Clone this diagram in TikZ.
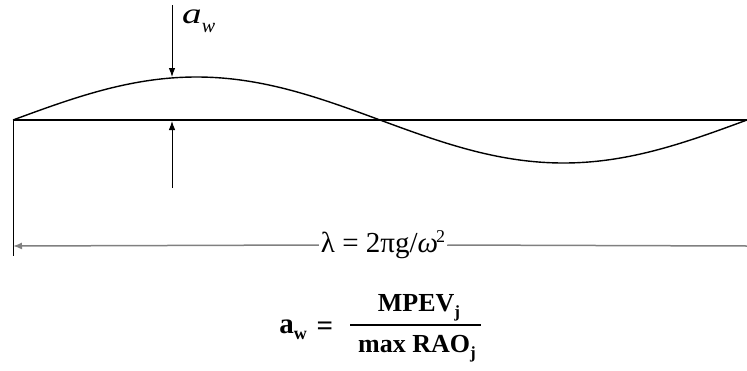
\documentclass[tikz,border=0pt]{standalone}
\usepackage{fontspec}
\setmainfont{Liberation Serif}
\usetikzlibrary{arrows.meta}
\begin{document}
\begin{tikzpicture}[x=1pt,y=-1pt,
  wave/.style={line width=1.4pt,black},
  ptr/.style={line width=0.9pt,-{Latex[length=9pt,width=6.5pt]}},
  dim/.style={line width=1.5pt,black!50},
  lbl/.style={inner sep=1pt,font=\fontsize{29}{33}\selectfont},
  fbold/.style={inner sep=1pt,font=\fontsize{26}{30}\selectfont\bfseries}]
\useasboundingbox (0,0) rectangle (747,370);
% axis and wave
\coordinate (A) at (13,120);
\coordinate (B) at (747,120);
\draw[wave] (A) -- (B);
\draw[wave] plot[domain=13:747,samples=150,smooth] (\x,{120-43*sin((\x-13)/734*360)});
% amplitude arrows
\coordinate (t0) at (172,5);
\coordinate (t1) at (172,77);
\coordinate (b0) at (172,188);
\coordinate (b1) at (172,121);
\draw[ptr] (t0) -- (t1);
\draw[ptr] (b0) -- (b1);
\node[lbl,anchor=base west,font=\fontsize{29}{32}\selectfont] (aw) at (181,23) {\scalebox{1.35}[1]{\textit{a}}\raisebox{-9pt}{\fontsize{20}{22}\selectfont\textit{w}}};
% left extension line
\coordinate (L0) at (13,121);
\coordinate (L1) at (13,256);
\draw[line width=0.9pt] (L0) -- (L1);
% dimension line
\coordinate (DL) at (13,246);
\coordinate (DR) at (747,246);
\node[lbl,inner sep=2pt] (lam) at (383,245) {λ = 2πg/\textit{ω}\kern-2pt\raisebox{10pt}{\fontsize{18}{20}\selectfont 2}};
\draw[dim,{Latex[length=9pt,width=7pt]}-] (DL) -- (lam.west);
\draw[dim] (lam.east) -- (DR);
% formula
\node[fbold,anchor=base,font=\fontsize{29}{32}\selectfont\bfseries] (aw2) at (293,333) {a\raisebox{-6pt}{\fontsize{18}{20}\selectfont w}};
\node[fbold,anchor=base,font=\fontsize{29}{32}\selectfont\bfseries] (eq) at (325,335) {=};
\coordinate (FL) at (350,325);
\coordinate (FR) at (481,325);
\draw[line width=1.4pt] (FL) -- (FR);
\node[fbold,anchor=base] (num) at (419,311) {MPEV\raisebox{-6pt}{\fontsize{17}{20}\selectfont j}};
\node[fbold,anchor=base] (den) at (417,352) {max RAO\raisebox{-6pt}{\fontsize{17}{20}\selectfont j}};
\end{tikzpicture}
\end{document}
